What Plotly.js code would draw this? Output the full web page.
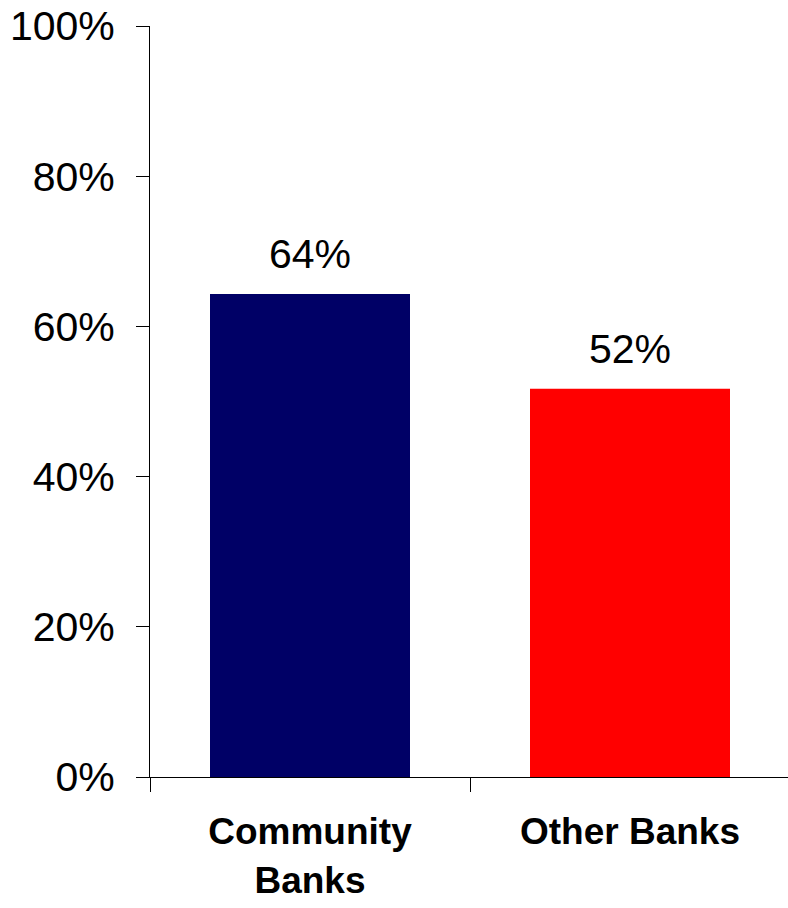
<!DOCTYPE html>
<html>
<head>
<meta charset="utf-8">
<script src="https://cdn.plot.ly/plotly-3.0.1.min.js"></script>
<style>html,body{margin:0;padding:0;background:#fff;}#chart{width:788px;height:908px;}</style>
</head>
<body>
<div id="chart"></div>
<script>
const categories = ["Community<br>Banks", "Other Banks"];
const values = [64.3, 51.7];
const colors = ["#000066", "#FF0000"];
const yTicks = [0, 20, 40, 60, 80, 100];

const FONT = "Liberation Sans, Arial, sans-serif";

const trace = {
  type: "bar",
  x: categories,
  y: values,
  marker: {color: colors, line: {width: 0}},
  hoverinfo: "skip"
};

const annotations = categories.map((c, i) => ({
  x: c, y: values[i], xref: "x", yref: "y",
  text: Math.round(values[i]) + "%",
  showarrow: false, yanchor: "bottom", yshift: 15,
  font: {family: FONT, size: 41, color: "#000"}
}));

const layout = {
  width: 788, height: 908,
  margin: {l: 150, r: 0, t: 26, b: 131, pad: 0},
  paper_bgcolor: "#fff", plot_bgcolor: "#fff",
  showlegend: false,
  bargap: 0.375,
  font: {family: FONT, color: "#000"},
  xaxis: {
    type: "category",
    range: [-0.5, 1.49375],
    showline: true, linecolor: "#000", linewidth: 1,
    ticks: "outside", tickson: "boundaries", ticklen: 14, tickcolor: "#000", tickwidth: 1,
    showgrid: false, zeroline: false,
    tickfont: {family: FONT, size: 37, color: "#000", weight: "bold"},
    ticklabelstandoff: 22
  },
  yaxis: {
    range: [0, 100],
    tickvals: yTicks,
    ticktext: yTicks.map(v => v + "%"),
    showline: true, linecolor: "#000", linewidth: 1,
    ticks: "outside", ticklen: 13, tickcolor: "#000", tickwidth: 1,
    showgrid: false, zeroline: false,
    tickfont: {family: FONT, size: 41, color: "#000"},
    ticklabelstandoff: 13
  },
  annotations: annotations
};

Plotly.newPlot("chart", [trace], layout, {displayModeBar: false, staticPlot: true});
</script>
</body>
</html>
